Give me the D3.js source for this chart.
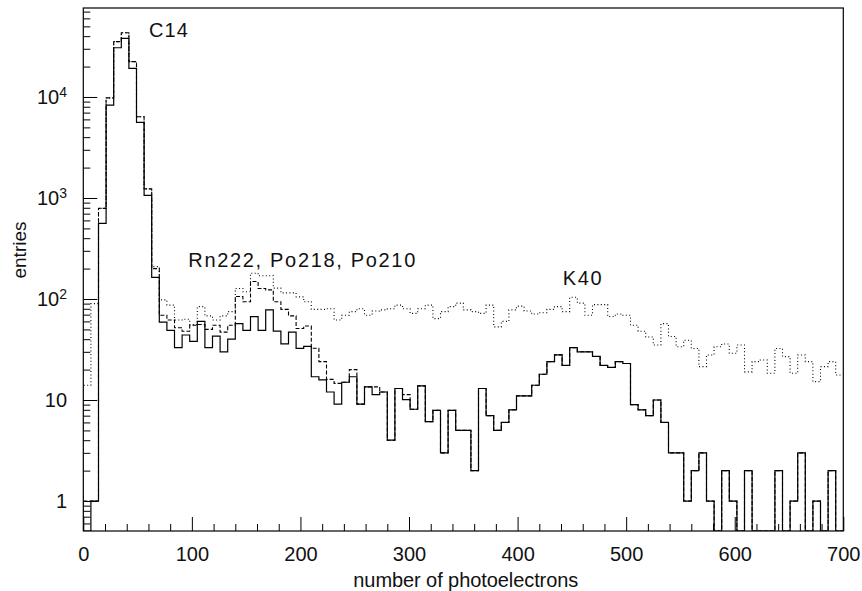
<!doctype html>
<html>
<head>
<meta charset="utf-8">
<style>
    body { margin: 0; background: #fff; }
    svg text { font-family: "Liberation Sans", Arial, Helvetica, sans-serif; fill: #111; }
</style>
</head>
<body>
<div id="chart"></div>
<script src="https://d3js.org/d3.v7.min.js"></script>
<script>

// histogram bins: 100 bins of 7 photoelectrons from 0 to 700
var binWidth = 7;
var binLow = d3.range(0, 700, binWidth);

// solid histogram
var solidCounts = [
    0, 1, 560, 8300, 30700, 38000, 19200, 5600, 1060, 164,
    59, 49, 33, 44, 38, 60, 33, 43, 30, 40,
    57, 49, 67, 49, 78, 48, 36, 47, 32.5, 34,
    17, 15.8, 12, 9.1, 15, 17, 9.1, 13.5, 11.3, 12,
    4, 13, 10.1, 8.1, 13.8, 6.1, 7.9, 3, 7.9, 5,
    5, 2, 13, 7, 5, 6, 8, 11, 11, 14,
    18, 24, 28, 22, 33, 30, 30, 27, 22, 21,
    24, 23, 9, 8, 7, 10, 6, 3, 3, 1,
    2, 3, 1, 0, 2, 1, 0, 2, 0, 0,
    0, 2, 0, 1, 3, 0, 1, 0, 2, 0
];

// dashed histogram
var dashedCounts = [
    1, 1, 790, 9800, 35300, 43300, 22400, 6380, 1230, 200,
    69, 62, 52, 48, 55, 56, 50, 55, 47, 55,
    106, 94, 149, 127, 123, 94, 79, 68, 51, 54,
    32.5, 24, 16, 14.6, 15, 20, 9.1, 13.5, 13.5, 12,
    4, 13, 11.3, 8.1, 13.8, 6.1, 7.9, 3, 7.9, 5,
    5, 2, 13, 7, 5, 6, 8, 11, 11, 14,
    18, 24, 28, 22, 33, 30, 30, 27, 22, 21,
    24, 23, 9, 8, 7, 10, 6, 3, 3, 1,
    2, 3, 1, 0, 2, 1, 0, 2, 0, 0,
    0, 2, 0, 1, 3, 0, 1, 0, 2, 0
];

// dotted histogram
var dottedCounts = [
    14, 90, 790, 9800, 35300, 43300, 22400, 6380, 1230, 209,
    98, 87, 62, 63, 56, 84, 68, 62, 68, 75,
    127, 118, 180, 170, 170, 128, 115, 115, 105, 94,
    79, 79, 80, 62, 69, 75, 80, 69, 76, 78,
    80, 87, 80, 72, 80, 87, 64, 75, 84, 91,
    78, 75, 72, 87, 53, 60, 78, 85, 76, 71,
    73, 79, 84, 75, 104, 91, 69, 88, 88, 67,
    71, 69, 55, 48, 42, 35, 57, 42.6, 33.7, 39,
    32.4, 21.4, 27.9, 33.7, 35.8, 29, 35, 19, 24, 24.9,
    18.4, 32.4, 26.9, 18.4, 27.9, 24, 15.2, 21.4, 24, 17.7
];

var xMajor = [0, 100, 200, 300, 400, 500, 600, 700];
var yMajor = [1, 10, 100, 1000, 10000];
var yLabels = [["1", ""], ["10", ""], ["10", "2"], ["10", "3"], ["10", "4"]];

var labels = [
    {text: "C14", x: 60.5, y: 39000, len: 39},
    {text: "Rn222, Po218, Po210", x: 96.7, y: 207, len: 227},
    {text: "K40", x: 441.6, y: 138, len: 39}
];

var margin = {top: 8, right: 18.7, bottom: 60, left: 83.3},
    width = 862 - margin.left - margin.right,
    height = 591 - margin.top - margin.bottom;

var svg = d3.select("#chart").append("svg")
    .attr("width", 862)
    .attr("height", 591)
    .append("g")
    .attr("transform", "translate(" + margin.left + "," + margin.top + ")");

var x = d3.scaleLinear()
    .domain([0, 700])
    .range([0, width]);

var y = d3.scaleLog()
    .domain([0.505, 76000])
    .range([height, 0]);

function yv(v) {
    if (v <= 0) return height;
    return Math.min(height, y(v));
}

//clip so nothing spills out of the frame
svg.append("clipPath")
    .attr("id", "frameClip")
    .append("rect")
    .attr("width", width)
    .attr("height", height);

//step line through the bins
function stepPath(counts) {
    var pts = [[binLow[0], 0]];
    counts.forEach(function(c, i) { pts.push([binLow[i], c]); });
    pts.push([binLow[binLow.length - 1] + binWidth, counts[counts.length - 1]]);
    return d3.line()
        .curve(d3.curveStepAfter)
        .x(function(d) { return x(d[0]); })
        .y(function(d, i) { return i == 0 ? height : yv(d[1]); })(pts);
}

var hist = svg.append("g").attr("clip-path", "url(#frameClip)");

hist.append("path")
    .attr("d", stepPath(dottedCounts))
    .attr("fill", "none")
    .attr("stroke", "#000")
    .attr("stroke-width", 1.1)
    .attr("stroke-dasharray", "1,2.4");

hist.append("path")
    .attr("d", stepPath(solidCounts))
    .attr("fill", "none")
    .attr("stroke", "#000")
    .attr("stroke-width", 1.2);

hist.append("path")
    .attr("d", stepPath(dashedCounts))
    .attr("fill", "none")
    .attr("stroke", "#000")
    .attr("stroke-width", 1.1)
    .attr("stroke-dasharray", "4,2");

//x axis, ticks point into the frame
var xMinor = d3.range(0, 701, 20).filter(function(d) { return xMajor.indexOf(d) < 0; });

svg.append("g")
    .attr("transform", "translate(0," + height + ")")
    .call(d3.axisBottom(x).tickValues(xMinor).tickSize(-7).tickSizeOuter(0).tickFormat(""))
    .call(function(g) { g.select(".domain").remove(); });

svg.append("g")
    .attr("transform", "translate(0," + height + ")")
    .call(d3.axisBottom(x).tickValues(xMajor).tickSize(-14).tickSizeOuter(0).tickPadding(15.5)
        .tickFormat(d3.format("d")))
    .call(function(g) {
        g.select(".domain").remove();
        g.selectAll("text").attr("font-size", "20px").attr("font-family", null).attr("fill", null);
    });

//y axis, log ticks
var yMinor = [];
[0.1, 1, 10, 100, 1000, 10000].forEach(function(dec) {
    for (var k = 2; k <= 9; k++) {
        var v = dec * k;
        if (v >= 0.505 && v <= 76000) yMinor.push(v);
    }
});

svg.append("g")
    .call(d3.axisLeft(y).tickValues(yMinor).tickSize(-7).tickSizeOuter(0).tickFormat(""))
    .call(function(g) { g.select(".domain").remove(); });

svg.append("g")
    .call(d3.axisLeft(y).tickValues(yMajor).tickSize(-14).tickSizeOuter(0).tickFormat(""))
    .call(function(g) { g.select(".domain").remove(); });

svg.selectAll(".ylab")
    .data(yMajor)
    .enter().append("text")
    .attr("class", "ylab")
    .attr("x", -16.3)
    .attr("y", function(d) { return y(d); })
    .attr("dy", "0.36em")
    .attr("text-anchor", "end")
    .attr("font-size", "20px")
    .each(function(d, i) {
        var t = d3.select(this);
        t.append("tspan").text(yLabels[i][0]);
        if (yLabels[i][1]) {
            t.append("tspan")
                .attr("dy", "-0.5em")
                .attr("font-size", "14px")
                .text(yLabels[i][1]);
        }
    });

//frame
svg.append("rect")
    .attr("width", width)
    .attr("height", height)
    .attr("fill", "none")
    .attr("stroke", "#000")
    .attr("stroke-width", 1.2);

//axis titles
svg.append("text")
    .attr("x", width / 2 + 2.5)
    .attr("y", 579.3)
    .attr("text-anchor", "middle")
    .attr("font-size", "20px")
    .attr("textLength", 225)
    .attr("lengthAdjust", "spacing")
    .text("number of photoelectrons");

svg.append("text")
    .attr("transform", "translate(" + (25.5 - margin.left) + "," + (250 - margin.top) + ") rotate(-90)")
    .attr("text-anchor", "middle")
    .attr("font-size", "19px")
    .text("entries");

//peak labels
svg.selectAll(".peak")
    .data(labels)
    .enter().append("text")
    .attr("class", "peak")
    .attr("x", function(d) { return x(d.x); })
    .attr("y", function(d) { return y(d.y); })
    .attr("font-size", "20px")
    .attr("textLength", function(d) { return d.len; })
    .attr("lengthAdjust", "spacing")
    .text(function(d) { return d.text; });

</script>
</body>
</html>
